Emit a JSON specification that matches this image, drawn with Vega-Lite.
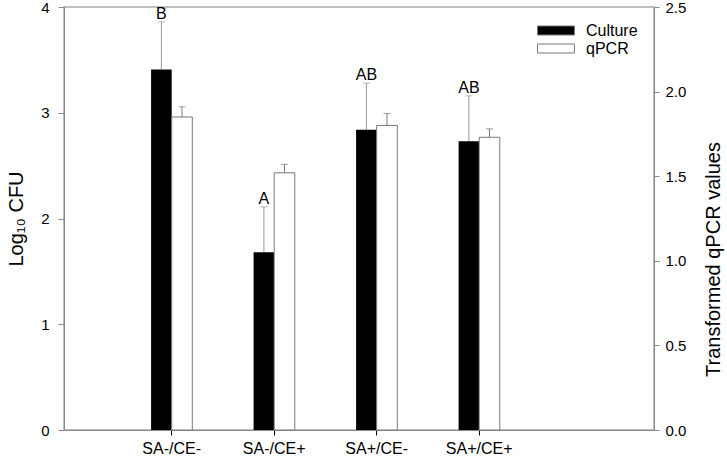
{
  "$schema": "https://vega.github.io/schema/vega-lite/v6.json",
  "width": 590,
  "height": 423,
  "autosize": {"type": "none"},
  "padding": {"left": 64, "top": 7, "right": 73, "bottom": 35},
  "config": {
    "view": {"stroke": "#aaa", "strokeWidth": 1.5},
    "font": "Liberation Sans",
    "axis": {
      "labelFont": "Liberation Sans",
      "titleFont": "Liberation Sans",
      "labelColor": "black",
      "titleColor": "black",
      "labelFontSize": 15,
      "titleFontSize": 20,
      "titleFontWeight": "normal",
      "domainColor": "#888",
      "tickColor": "#888",
      "grid": false,
      "tickSize": 6
    },
    "text": {"font": "Liberation Sans"}
  },
  "data": {
    "values": [
      {"group": "SA-/CE-", "method": "Culture", "value": 3.41, "hi": 3.86, "label": "B"},
      {"group": "SA-/CE+", "method": "Culture", "value": 1.68, "hi": 2.11, "label": "A"},
      {"group": "SA+/CE-", "method": "Culture", "value": 2.84, "hi": 3.28, "label": "AB"},
      {"group": "SA+/CE+", "method": "Culture", "value": 2.73, "hi": 3.16, "label": "AB"},
      {"group": "SA-/CE-", "method": "qPCR", "value": 1.85, "hi": 1.91, "label": ""},
      {"group": "SA-/CE+", "method": "qPCR", "value": 1.52, "hi": 1.57, "label": ""},
      {"group": "SA+/CE-", "method": "qPCR", "value": 1.80, "hi": 1.87, "label": ""},
      {"group": "SA+/CE+", "method": "qPCR", "value": 1.73, "hi": 1.78, "label": ""}
    ]
  },
  "encoding": {
    "x": {
      "field": "group",
      "type": "nominal",
      "sort": null,
      "scale": {
        "domain": ["SA-/CE-", "SA-/CE+", "SA+/CE-", "SA+/CE+", " "],
        "paddingInner": 0.598,
        "paddingOuter": 0.677,
        "align": 0.6275,
        "round": false
      },
      "axis": {
        "title": null,
        "values": ["SA-/CE-", "SA-/CE+", "SA+/CE-", "SA+/CE+"],
        "labelAngle": 0,
        "labelFontSize": 16,
        "tickColor": "black",
        "tickSize": 5,
        "labelPadding": 5
      }
    },
    "xOffset": {
      "field": "method",
      "type": "nominal",
      "scale": {"domain": ["Culture", "qPCR"], "paddingInner": 0, "paddingOuter": 0}
    }
  },
  "layer": [
    {
      "transform": [{"filter": "datum.method === 'Culture'"}],
      "layer": [
        {
          "mark": {"type": "rule", "color": "#999", "strokeWidth": 1},
          "encoding": {
            "y": {
              "field": "value",
              "type": "quantitative",
              "scale": {"domain": [0, 4]},
              "axis": {"title": "Log₁₀ CFU", "values": [0, 1, 2, 3, 4], "orient": "left", "labelPadding": 9, "titlePadding": 14}
            },
            "y2": {"field": "hi"}
          }
        },
        {
          "mark": {"type": "tick", "color": "#999", "size": 7, "thickness": 1},
          "encoding": {
            "y": {
              "field": "hi",
              "type": "quantitative",
              "scale": {"domain": [0, 4]},
              "axis": {"title": "Log₁₀ CFU", "values": [0, 1, 2, 3, 4], "orient": "left", "labelPadding": 9, "titlePadding": 14}
            }
          }
        },
        {
          "mark": {"type": "bar"},
          "encoding": {
            "y": {
              "field": "value",
              "type": "quantitative",
              "scale": {"domain": [0, 4]},
              "axis": {"title": "Log₁₀ CFU", "values": [0, 1, 2, 3, 4], "orient": "left", "labelPadding": 9, "titlePadding": 14}
            },
            "color": {
              "field": "method",
              "type": "nominal",
              "scale": {"domain": ["Culture", "qPCR"], "range": ["black", "white"]},
              "legend": {
                "orient": "none",
                "legendX": 468.5,
                "legendY": 14,
                "title": null,
                "symbolType": "M-0.5,-0.5H3.6V0.5H-0.5Z",
                "symbolSize": 324,
                "symbolStrokeColor": "#666",
                "symbolStrokeWidth": 1,
                "symbolOpacity": 1,
                "labelFont": "Liberation Sans",
                "labelFontSize": 16,
                "labelColor": "black",
                "labelOffset": 34.5,
                "rowPadding": -1,
                "padding": 0
              }
            }
          }
        },
        {
          "mark": {"type": "text", "baseline": "alphabetic", "dy": -3, "fontSize": 16, "color": "black"},
          "encoding": {
            "y": {
              "field": "hi",
              "type": "quantitative",
              "scale": {"domain": [0, 4]},
              "axis": {"title": "Log₁₀ CFU", "values": [0, 1, 2, 3, 4], "orient": "left", "labelPadding": 9, "titlePadding": 14}
            },
            "text": {"field": "label"}
          }
        }
      ]
    },
    {
      "transform": [{"filter": "datum.method === 'qPCR'"}],
      "layer": [
        {
          "mark": {"type": "rule", "color": "#777", "strokeWidth": 1},
          "encoding": {
            "y": {
              "field": "value",
              "type": "quantitative",
              "scale": {"domain": [0, 2.5]},
              "axis": {"title": "Transformed qPCR values", "values": [0, 0.5, 1, 1.5, 2, 2.5], "format": ".1f", "orient": "right", "tickSize": 5, "labelPadding": 6, "titlePadding": 18, "titleAngle": 270, "titleBaseline": "top", "titleY": 252}
            },
            "y2": {"field": "hi"}
          }
        },
        {
          "mark": {"type": "tick", "color": "#777", "size": 7, "thickness": 1},
          "encoding": {
            "y": {
              "field": "hi",
              "type": "quantitative",
              "scale": {"domain": [0, 2.5]},
              "axis": {"title": "Transformed qPCR values", "values": [0, 0.5, 1, 1.5, 2, 2.5], "format": ".1f", "orient": "right", "tickSize": 5, "labelPadding": 6, "titlePadding": 18, "titleAngle": 270, "titleBaseline": "top", "titleY": 252}
            }
          }
        },
        {
          "mark": {"type": "bar", "stroke": "#777", "strokeWidth": 1},
          "encoding": {
            "y": {
              "field": "value",
              "type": "quantitative",
              "scale": {"domain": [0, 2.5]},
              "axis": {"title": "Transformed qPCR values", "values": [0, 0.5, 1, 1.5, 2, 2.5], "format": ".1f", "orient": "right", "tickSize": 5, "labelPadding": 6, "titlePadding": 18, "titleAngle": 270, "titleBaseline": "top", "titleY": 252}
            },
            "color": {
              "field": "method",
              "type": "nominal",
              "scale": {"domain": ["Culture", "qPCR"], "range": ["black", "white"]}
            }
          }
        }
      ]
    }
  ],
  "resolve": {"scale": {"y": "independent"}}
}
